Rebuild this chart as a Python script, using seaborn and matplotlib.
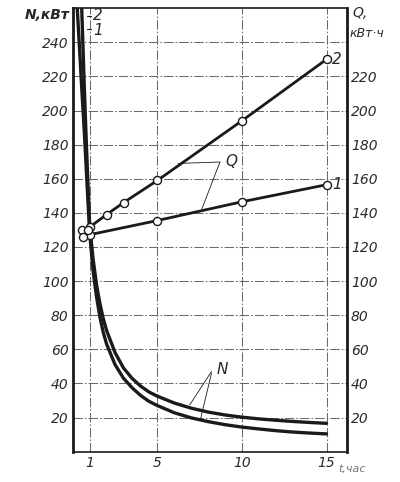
import numpy as np
import pandas as pd
import matplotlib
matplotlib.use("Agg")
import matplotlib.pyplot as plt
import seaborn as sns

# -------------------------------------------------
# Data
# -------------------------------------------------
# Q, kWh (straight lines with open circles)
q2_t = [1, 2, 3, 5, 10, 15]
q2_val = [131.7, 139, 146, 159, 194, 230]
q1_t = [1, 5, 10, 15]
q1_val = [127.2, 135.5, 146.5, 156.5]
# loose circles to the left of t = 1
q_extra_t = [0.52, 0.62, 0.88]
q_extra_val = [129.7, 125.8, 129.7]

# N, kW (falling curves)
n2_t = [0.52, 0.6, 0.7, 0.8, 0.9, 1.0, 1.2, 1.4, 1.6, 1.8, 2.0, 2.5, 3.0, 3.5,
        4, 4.5, 5, 6, 7, 8, 9, 10, 11, 12, 13, 14, 15]
n2_val = [262, 238, 208, 181, 156, 132, 113, 98, 87, 78, 71, 58, 49, 43,
          38.5, 35, 32.5, 28.5, 25.5, 23.2, 21.5, 20.2, 19.2, 18.4, 17.7, 17.1, 16.6]
n1_t = [0.25, 0.4, 0.5, 0.6, 0.7, 0.8, 0.9, 1.0, 1.2, 1.4, 1.6, 1.8, 2.0, 2.5,
        3.0, 3.5, 4, 4.5, 5, 6, 7, 8, 9, 10, 11, 12, 13, 14, 15]
n1_val = [262, 236, 218, 201, 184, 165, 146, 128, 106, 91, 79, 70, 63, 51,
          43, 37.5, 33, 29.5, 27, 22.8, 19.8, 17.6, 15.8, 14.4, 13.3, 12.3, 11.5, 10.9, 10.4]

x_ticks = [1, 5, 10, 15]
left_ticks = list(range(20, 241, 20))
right_ticks = list(range(20, 221, 20))

# -------------------------------------------------
# Plot
# -------------------------------------------------
sns.set_style("white")
plt.rcParams["font.family"] = ["DejaVu Sans"]
plt.rcParams["font.style"] = "italic"

fig = plt.figure(figsize=(4.0, 4.82), dpi=100)
ax = fig.add_axes([0.182, 0.063, 0.685, 0.920])

ink = "#1a1a1a"
label_c = "#2a2a2a"

# grid
for y in left_ticks:
    ax.axhline(y, color="#6a6a6a", lw=0.75, ls=(0, (9, 2, 1.5, 2)), zorder=0)
for x in x_ticks:
    ax.axvline(x, color="#6a6a6a", lw=0.75, ls=(0, (9, 2, 1.5, 2)), zorder=0)

# N curves
sns.lineplot(x=n2_t, y=n2_val, ax=ax, color=ink, lw=2.4, sort=False)
sns.lineplot(x=n1_t, y=n1_val, ax=ax, color=ink, lw=2.4, sort=False)

# Q lines
sns.lineplot(x=q2_t, y=q2_val, ax=ax, color=ink, lw=2.0, sort=False)
sns.lineplot(x=q1_t, y=q1_val, ax=ax, color=ink, lw=2.0, sort=False)
pts = pd.DataFrame({
    "t": q2_t + q1_t + q_extra_t,
    "q": q2_val + q1_val + q_extra_val,
})
sns.scatterplot(data=pts, x="t", y="q", ax=ax, s=34, marker="o",
                facecolor="white", edgecolor=ink, linewidth=1.0, zorder=5)

ax.set_xlim(0, 16.2)
ax.set_ylim(0, 260)
ax.set_xticks(x_ticks)
ax.set_xticklabels(["1", "5", "10", "15"])
ax.set_yticks(left_ticks)
ax.set_xlabel("")
ax.set_ylabel("")
ax.tick_params(length=0, labelsize=10, pad=3, labelcolor=label_c)

for side in ["left", "right"]:
    ax.spines[side].set_linewidth(2.0)
for side in ["top", "bottom"]:
    ax.spines[side].set_linewidth(1.2)
for s in ax.spines.values():
    s.set_color(ink)

ax2 = ax.twinx()
ax2.set_ylim(0, 260)
ax2.set_yticks(right_ticks)
ax2.tick_params(length=0, labelsize=10, pad=3, labelcolor=label_c)
for s in ax2.spines.values():
    s.set_visible(False)

# axis titles
fig.text(0.175, 0.969, "N,кВт", ha="right", va="center", fontsize=10,
         fontweight="bold")
fig.text(0.88, 0.972, "Q,", ha="left", va="center", fontsize=10, color=label_c)
fig.text(0.875, 0.931, "кВт·ч", ha="left", va="center", fontsize=9, color=label_c)
fig.text(0.845, 0.028, "t,час", ha="left", va="center", fontsize=8,
         color="#777777")

# curve labels
ax.text(15.35, 230, "2", ha="left", va="center", fontsize=11)
ax.text(15.35, 156.5, "1", ha="left", va="center", fontsize=11)
ax.plot([0.85, 1.1], [255.5, 255.5], color=ink, lw=0.8)
ax.plot([0.85, 1.1], [248, 248], color=ink, lw=0.8)
ax.text(1.2, 256, "2", ha="left", va="center", fontsize=11)
ax.text(1.2, 247, "1", ha="left", va="center", fontsize=11)

# Q leaders
ax.plot([6.24, 8.7], [169, 169.8], color=ink, lw=0.6)
ax.plot([8.7, 7.63], [169.8, 142.3], color=ink, lw=0.6)
ax.text(9.05, 170, "Q", ha="left", va="center", fontsize=11)

# N leaders
ax.plot([8.2, 6.92], [47, 27.5], color=ink, lw=0.6)
ax.plot([8.2, 7.55], [46, 19], color=ink, lw=0.6)
ax.text(8.5, 48, "N", ha="left", va="center", fontsize=11)

plt.savefig("out.png", dpi=100)
plt.close()
print("saved")
